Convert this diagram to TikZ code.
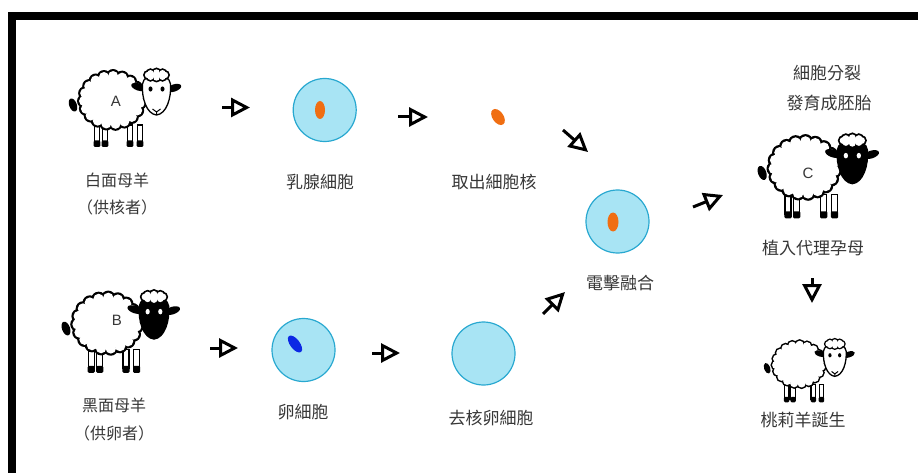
\documentclass[tikz,border=0pt]{standalone}
\usepackage{fontspec}
\usetikzlibrary{arrows.meta,calc}
\newfontfamily\cjk{Noto Sans CJK TC}
\newfontfamily\latinsans{Liberation Sans}
\definecolor{cellfill}{RGB}{168,228,244}
\definecolor{cellline}{RGB}{40,168,208}
\definecolor{nucorange}{RGB}{240,110,18}
\definecolor{nucblue}{RGB}{12,40,228}
\definecolor{inktext}{RGB}{55,55,55}

\tikzset{
  sheepface/.store in=\sheepface, sheepface=white,
  sheepeye/.store in=\sheepeye, sheepeye=black,
  cell/.style={circle, draw=cellline, fill=cellfill, line width=1.2pt,
    minimum size=63pt, inner sep=0pt},
  caption/.style={font=\cjk\fontsize{17}{20}\selectfont, text=inktext, inner sep=0pt},
  donor/.style={font=\cjk\fontsize{16}{19}\selectfont, text=inktext, inner sep=0pt},
  tag/.style={font=\latinsans\fontsize{15}{18}\selectfont, text=inktext, inner sep=0pt},
  flow/.style={line width=3pt, -{Triangle[open, length=19pt, width=19pt]}},
  % a cartoon sheep; origin sits in the middle of the fleece
  pics/sheep/.style={code={
    % legs with dark hooves
    \foreach \lx in {-19,-11,14,24}{
      \filldraw[fill=white, line width=1.3pt] (\lx-2.8,24) rectangle (\lx+2.8,42);
      \fill[rounded corners=1.2pt] (\lx-3.4,39.5) rectangle (\lx+3.4,46);
    }
    % tail
    \fill[rotate around={20:(-43,4)}] (-43,4) ellipse (3.8 and 6.8);
    % fleece: dark rim of puffs, white puffs and core on top
    \foreach \k in {0,...,18}{\fill ({-4+28*cos(\k*360/19+7)},{-1+24*sin(\k*360/19+7)}) circle (7);}
    \foreach \k in {0,...,18}{\fill[white] ({-4+28*cos(\k*360/19+7)},{-1+24*sin(\k*360/19+7)}) circle (5);}
    \fill[white] (-4,-1) ellipse (28 and 24);
    \begin{scope}[shift={(40.5,-7)}]
      % ears
      \fill[rotate around={-18:(-18,-7)}] (-18,-7) ellipse (7.5 and 3.6);
      \fill[rotate around={18:(17.5,-6)}] (17.5,-6) ellipse (7.5 and 3.6);
      % face
      \filldraw[fill=\sheepface, line width=1.3pt] (-14,-10) .. controls (-15,4) and (-10,20) .. (0,21)
        .. controls (10,20) and (15,4) .. (14,-10) .. controls (13,-22) and (-13,-22) .. cycle;
      \fill[\sheepeye] (-6,-5) ellipse (2 and 2.6) (6,-5) ellipse (2 and 2.6);
      \draw[line width=1pt] (-4,15) -- (0,18) -- (4,15) (0,18) -- (0,20.5);
      % curly topknot
      \foreach \k in {0,...,7}{\fill ({8.5*cos(\k*45)},{-19+2.5*sin(\k*45)}) circle (5);}
      \foreach \k in {0,...,7}{\fill[white] ({8.5*cos(\k*45)},{-19+2.5*sin(\k*45)}) circle (3.2);}
      \fill[white] (0,-19) ellipse (8.5 and 2.5);
    \end{scope}
  }}
}

\begin{document}
\begin{tikzpicture}[x=1pt, y=-1pt]
\useasboundingbox (0,0) rectangle (918,473);
\fill[white] (0,0) rectangle (918,473);
% frame
\fill (8,12) rectangle (918,20);
\fill (8,12) rectangle (16,473);

% sheep
\pic at (116,101) {sheep};
\pic[scale=1.054, sheepface=black, sheepeye=white] at (111.3,324.3) {sheep};
\pic[scale=1.08, sheepface=black, sheepeye=white] at (808.6,168.6) {sheep};
\pic[scale=0.81] at (802,365) {sheep};
\node[tag] (sA) at (116,101) {A};
\node[tag] (sB) at (117,320) {B};
\node[tag] (sC) at (808,173) {C};
\coordinate (sD) at (802,365);

% cells and nuclei
\node[cell] (c1) at (324.7,110) {};
\fill[nucorange] (320,110) ellipse (5 and 9);
\coordinate (n1) at (498,117);
\fill[nucorange, rotate around={35:(n1)}] (n1) ellipse (5.5 and 9);
\node[cell] (c3) at (617.5,221.5) {};
\fill[nucorange] (613,222) ellipse (5.5 and 9.5);
\node[cell] (c4) at (303.5,350) {};
\fill[nucblue, rotate around={37:(295,344)}] (295,344) ellipse (4.8 and 10);
\node[cell] (c5) at (483.5,353.5) {};

% captions
\node[donor] (lA1) at (117,180) {白面母羊};
\node[donor] (lA2) at (117,207) {（供核者）};
\node[donor] (lB1) at (114,405) {黑面母羊};
\node[donor] (lB2) at (114,433) {（供卵者）};
\node[caption] (l1) at (320,182) {乳腺細胞};
\node[caption] (l2) at (494,182) {取出細胞核};
\node[caption] (l3) at (620,283) {電擊融合};
\node[caption] (l4) at (827,73) {細胞分裂};
\node[caption] (l5) at (829,103) {發育成胚胎};
\node[caption] (l6) at (813,248) {植入代理孕母};
\node[caption] (l7) at (303,412) {卵細胞};
\node[caption] (l8) at (491,418) {去核卵細胞};
\node[caption] (l9) at (803,420) {桃莉羊誕生};

% process arrows
\draw[flow] ($(sA)+(106,6.5)$) -- ($(c1)+(-74.7,-2.5)$);
\draw[flow] ($(c1)+(73.3,7)$) -- ($(n1)+(-70,0)$);
\draw[flow] ($(n1)+(65,13)$) -- ($(c3)+(-29.5,-69.5)$);
\draw[flow] ($(c3)+(75.5,-14.5)$) -- ($(sC)+(-85,22)$);
\draw[flow] ($(sC)+(4,105)$) -- ($(sD)+(10,-62)$);
\draw[flow] ($(sB)+(93,28)$) -- ($(c4)+(-65.5,-2)$);
\draw[flow] ($(c4)+(68.5,3)$) -- ($(c5)+(-83.5,-0.5)$);
\draw[flow] ($(c5)+(59.5,-39.5)$) -- ($(c3)+(-52.5,70.5)$);
\end{tikzpicture}
\end{document}
